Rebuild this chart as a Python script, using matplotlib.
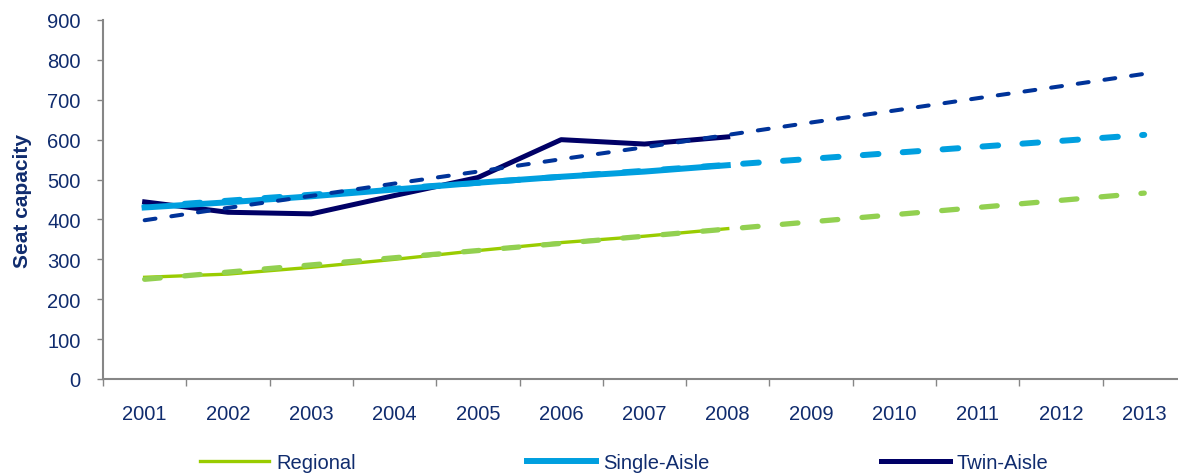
import matplotlib
matplotlib.use("Agg")
import matplotlib.pyplot as plt

plt.rcParams['font.family'] = ['Liberation Sans', 'DejaVu Sans']
plt.rcParams['lines.scale_dashes'] = False

years = ['2001', '2002', '2003', '2004', '2005', '2006', '2007',
         '2008', '2009', '2010', '2011', '2012', '2013']

# actual values 2001-2008
regional = [255, 263, 280, 300, 322, 342, 358, 377]
single_aisle = [430, 443, 458, 475, 492, 507, 520, 536]
twin_aisle = [444, 418, 414, 460, 505, 600, 589, 607]

# trend lines 2001-2013
regional_trend = [250, 268, 286, 304, 322, 340, 358, 376, 394, 412, 430, 448, 466]
single_trend = [432, 447, 462, 477, 492, 507, 522, 537, 552, 567, 582, 597, 612]
twin_trend = [398, 429, 459, 490, 520, 551, 581, 612, 643, 673, 704, 734, 765]

text_col = '#102C6E'
c_reg = '#99CC00'
c_reg_tr = '#92D050'
c_single = '#009FDF'
c_twin = '#000066'
c_twin_tr = '#003399'
fs = 14.5

fig = plt.figure(figsize=(11.78, 4.77), dpi=100)
ax = fig.add_axes([103 / 1178, 1 - 380 / 477, 13 * 83.3 / 1178, 359 / 477])

x_act = list(range(len(regional)))
x_all = list(range(len(years)))

ax.plot(x_all, single_trend, color=c_single, lw=4.3, dashes=(11.3, 17.5),
        dash_capstyle='round', zorder=2)
ax.plot(x_act, twin_aisle, color=c_twin, lw=3.6, zorder=3, label='Twin-Aisle')
ax.plot(x_act, single_aisle, color=c_single, lw=4.3, zorder=4, label='Single-Aisle')
ax.plot(x_all, twin_trend, color=c_twin_tr, lw=2.9, dashes=(7.9, 11.5),
        dash_capstyle='round', zorder=5)
ax.plot(x_act, regional, color=c_reg, lw=2.4, zorder=6, label='Regional')
ax.plot(x_all, regional_trend, color=c_reg_tr, lw=3.8, dashes=(11.3, 17.5),
        dash_capstyle='round', zorder=7)

ax.set_xlim(-0.5, 12.5)
ax.set_ylim(0, 900)
ax.set_yticks(range(0, 901, 100))
ax.set_xticks(x_all)
ax.set_xticklabels(years)
ax.set_xticks([i - 0.5 for i in range(14)], minor=True)

for s in ['top', 'right']:
    ax.spines[s].set_visible(False)
for s in ['left', 'bottom']:
    ax.spines[s].set_color('#868686')
    ax.spines[s].set_linewidth(1.5)

ax.tick_params(axis='x', which='major', length=0, pad=18, labelsize=fs, labelcolor=text_col)
ax.tick_params(axis='x', which='minor', length=5, width=1, color='#868686', direction='out')
ax.tick_params(axis='y', length=4.5, width=1, color='#868686', pad=11.5,
               labelsize=fs, labelcolor=text_col)

ax.set_ylabel('Seat capacity', fontsize=15, fontweight='bold', color=text_col)
ax.yaxis.set_label_coords(-0.066, 0.5)

h, l = ax.get_legend_handles_labels()
order = [2, 1, 0]
leg = fig.legend([h[i] for i in order], [l[i] for i in order], ncol=3, frameon=False,
                 loc='center left', bbox_to_anchor=(200 / 1178, 1 - 464 / 477),
                 borderpad=0, borderaxespad=0,
                 handlelength=3.43, handletextpad=0.35, columnspacing=8.5,
                 fontsize=fs, labelcolor=text_col)

fig.savefig('out.png', dpi=100)
